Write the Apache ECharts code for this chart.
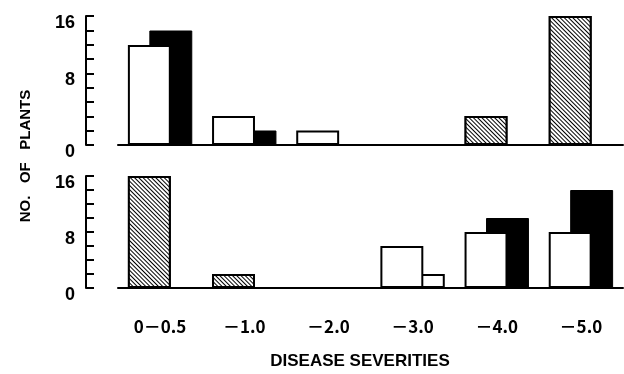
<!DOCTYPE html>
<html>
<head>
<meta charset="utf-8">
<script src="https://cdn.jsdelivr.net/npm/echarts@6/dist/echarts.min.js"></script>
<style>
html,body{margin:0;padding:0;background:#fff;}
#c{width:624px;height:374px;}
</style>
</head>
<body>
<div id="c"></div>
<script>
// ---- data ----
const categories = ['0－0.5', '－1.0', '－2.0', '－3.0', '－4.0', '－5.0'];
const topWhite   = [12.4, 3.6, 1.8, null, null, null];
const topHatched = [null, null, null, null, 3.6, 16];
const topBlack   = [14.2, 1.8, null, null, null, null];
const botWhite   = [null, null, null, 6, 8, 8];
const botHatched = [16, 2, null, null, null, null];
const botBlack   = [null, null, null, 2, 10, 14];
const botBlackWhiteFilled = [3];   // index of the open (white) bar in the dark series
const yTickLabels = [0, 8, 16];
const xTitle = 'DISEASE SEVERITIES';
const yTitle = 'NO.   OF   PLANTS';

const chart = echarts.init(document.getElementById('c'));
const BLK = '#000';
const numFont = {fontFamily: 'Liberation Sans', fontWeight: 'bold', fontSize: 18, color: BLK};
const hatch = {
  symbol: 'rect', symbolSize: 1, color: BLK, backgroundColor: '#fff',
  dashArrayX: [1, 0], dashArrayY: [1, 2], rotation: Math.PI / 4
};
const outline = {color: '#fff', borderColor: BLK, borderWidth: 2};
const hatchStyle = {color: '#fff', borderColor: BLK, borderWidth: 2, decal: hatch};
const blackStyle = {color: BLK, borderColor: BLK, borderWidth: 1};

function bar(name, x, y, data, stack, style, z) {
  return {type: 'bar', name, xAxisIndex: x, yAxisIndex: y, data, stack,
    itemStyle: style, z, barWidth: '51%', barGap: '-50%', animation: false};
}

const botBlackData = botBlack.map((v, i) =>
  botBlackWhiteFilled.includes(i) ? {value: v, itemStyle: outline} : v);

const yLabelBase = {
  show: true, margin: 11, align: 'right', verticalAlign: 'middle',
  rich: {
    s: Object.assign({padding: [15, 0, 0, 0]}, numFont),
    c: Object.assign({padding: [0, 0, 0, 0]}, numFont)
  }
};

chart.setOption({
  backgroundColor: '#fff',
  animation: false,
  grid: [
    {left: 118, right: 1, top: 16, height: 129},
    {left: 118, right: 1, top: 176, height: 112}
  ],
  xAxis: [
    {type: 'category', gridIndex: 0, data: categories,
      axisLine: {lineStyle: {color: BLK, width: 2}}, axisTick: {show: false}, axisLabel: {show: false}},
    {type: 'category', gridIndex: 1, data: categories,
      axisLine: {lineStyle: {color: BLK, width: 2}}, axisTick: {show: false},
      axisLabel: {margin: 30, fontFamily: 'Noto Sans CJK JP', fontWeight: 'bold', fontSize: 17, color: BLK}}
  ],
  yAxis: [
    // top panel: values and labels
    {type: 'value', gridIndex: 0, min: 0, max: 16, interval: 8, offset: 32,
      axisLine: {show: true, lineStyle: {color: BLK, width: 2}}, axisTick: {show: false},
      splitLine: {show: false},
      axisLabel: Object.assign({}, yLabelBase, {
        formatter: v => yTickLabels.includes(v) ? (v === 8 ? '{c|' + v + '}' : '{s|' + v + '}') : ''
      })},
    // top panel: tick marks (nine divisions as drawn)
    {type: 'value', gridIndex: 0, min: 0, max: 9, interval: 1, offset: 32, position: 'left',
      axisLine: {show: false}, axisLabel: {show: false}, splitLine: {show: false},
      axisTick: {show: true, inside: true, length: 8, lineStyle: {color: BLK, width: 2}}},
    // bottom panel
    {type: 'value', gridIndex: 1, min: 0, max: 16, interval: 2, offset: 32,
      axisLine: {show: true, lineStyle: {color: BLK, width: 2}},
      axisTick: {show: true, inside: true, length: 8, lineStyle: {color: BLK, width: 2}},
      splitLine: {show: false},
      axisLabel: Object.assign({}, yLabelBase, {
        formatter: v => yTickLabels.includes(v) ? '{s|' + v + '}' : ''
      })}
  ],
  series: [
    bar('top-open', 0, 0, topWhite, 'topA', outline, 5),
    bar('top-hatched', 0, 0, topHatched, 'topA', hatchStyle, 5),
    bar('top-dark', 0, 0, topBlack, 'topB', blackStyle, 2),
    bar('bot-open', 1, 2, botWhite, 'botA', outline, 5),
    bar('bot-hatched', 1, 2, botHatched, 'botA', hatchStyle, 5),
    bar('bot-dark', 1, 2, botBlackData, 'botB', blackStyle, 2)
  ],
  graphic: [
    {type: 'text', x: 360, y: 361,
      style: {text: xTitle, font: 'bold 17px "Liberation Sans"', fill: BLK,
        align: 'center', verticalAlign: 'middle'}},
    {type: 'text', x: 26, y: 156, rotation: Math.PI / 2,
      style: {text: yTitle, font: 'bold 15px "Liberation Sans"', fill: BLK,
        align: 'center', verticalAlign: 'middle'}}
  ]
});
</script>
</body>
</html>
